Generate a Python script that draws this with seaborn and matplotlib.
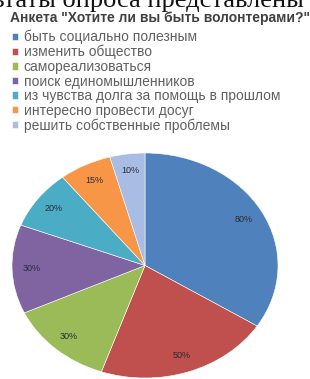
import matplotlib
matplotlib.use("Agg")
import matplotlib.pyplot as plt
import seaborn as sns
import numpy as np

# survey answers, "Хотите ли вы быть волонтерами?"
categories = [
    "быть социально полезным",
    "изменить общество",
    "самореализоваться",
    "поиск единомышленников",
    "из чувства долга за помощь в прошлом",
    "интересно провести досуг",
    "решить собственные проблемы",
]
values = [80, 50, 30, 30, 20, 15, 10]
pct_labels = ["80%", "50%", "30%", "30%", "20%", "15%", "10%"]

sns.set_theme(style="white")
plt.rcParams['font.family'] = ['Liberation Sans', 'DejaVu Sans']

palette = sns.color_palette(["#4F81BD", "#C0504D", "#9BBB59", "#8064A2",
                             "#4BACC6", "#F79646", "#A9BCE3"])

fig = plt.figure(figsize=(3.10, 3.79), dpi=100)

# piece of the document text above the chart, cut by the crop
fig.text(0.98, 1 - 7 / 379, "Результаты опроса представлены", ha="right",
         va="baseline", fontsize=19, family="Liberation Serif", color="#111111")

fig.text(0.515, 1 - 18 / 379, 'Анкета "Хотите ли вы быть волонтерами?"',
         ha="center", va="center", fontsize=10, fontweight="bold", color="#404040")

# pie is stretched a bit wider than tall, like in the original
ax = fig.add_axes([12 / 310, 1 - 378 / 379, 266 / 310, 225 / 379])
wedges, _ = ax.pie(values, colors=palette, startangle=90, counterclock=False,
                   wedgeprops=dict(edgecolor="white", linewidth=0.4))
ax.set_aspect("auto")
ax.set_xlim(-1, 1)
ax.set_ylim(-1, 1)

# labels are the given percents, placed near the outer edge
total = sum(values)
start = 90.0
for v, lab in zip(values, pct_labels):
    mid = start - v / total * 180
    start -= v / total * 360
    a = np.deg2rad(mid)
    ax.text(0.85 * np.cos(a), 0.85 * np.sin(a), lab, ha="center", va="center",
            fontsize=6.5, color="#2a2a3a")

fig.legend(wedges, categories, loc="upper left", bbox_to_anchor=(12 / 310, 1 - 30 / 379),
           frameon=False, fontsize=10, handlelength=0.45, handleheight=0.45,
           handletextpad=0.4, labelspacing=0.04, borderaxespad=0, borderpad=0,
           labelcolor="#606060")

fig.savefig("out.png", dpi=100)
